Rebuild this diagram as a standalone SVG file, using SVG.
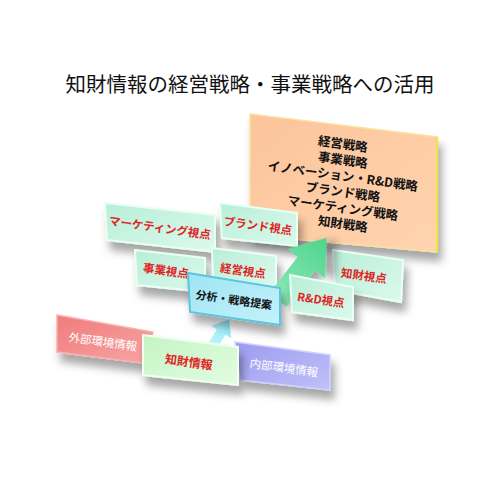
<svg xmlns="http://www.w3.org/2000/svg" width="500" height="500" viewBox="0 0 500 500">
<defs>
<filter id="sh" x="-20%" y="-20%" width="150%" height="180%">
<feDropShadow dx="4" dy="9" stdDeviation="4" flood-color="#000" flood-opacity="0.35"/>
</filter>
<linearGradient id="gOr" x1="0" y1="0" x2="1" y2="1"><stop offset="0" stop-color="#fcc49a"/><stop offset="1" stop-color="#ffd4b0"/></linearGradient>
<linearGradient id="gGr" x1="0" y1="0" x2="1" y2="1"><stop offset="0" stop-color="#b8eed8"/><stop offset="1" stop-color="#dcfaec"/></linearGradient>
<linearGradient id="gBl" x1="0" y1="0" x2="1" y2="1"><stop offset="0" stop-color="#9ee4f4"/><stop offset="1" stop-color="#c4f2fb"/></linearGradient>
<linearGradient id="gPk" x1="0" y1="0" x2="1" y2="1"><stop offset="0" stop-color="#f07c7c"/><stop offset="1" stop-color="#f8a4a4"/></linearGradient>
<linearGradient id="gLv" x1="0" y1="0" x2="1" y2="1"><stop offset="0" stop-color="#9c9cf0"/><stop offset="1" stop-color="#c0c0fa"/></linearGradient>
<linearGradient id="gLg" x1="0" y1="0" x2="1" y2="1"><stop offset="0" stop-color="#c4f4c4"/><stop offset="1" stop-color="#e2fce2"/></linearGradient>
<linearGradient id="gAr" x1="0" y1="0" x2="1" y2="0"><stop offset="0" stop-color="#8ee8b8"/><stop offset="1" stop-color="#4cd48c"/></linearGradient>
<linearGradient id="gAb" x1="0" y1="0" x2="1" y2="0"><stop offset="0" stop-color="#c8f6fc"/><stop offset="1" stop-color="#8ee6f6"/></linearGradient>
</defs>
<style>
text{font-family:"Noto Sans CJK JP","Noto Sans",sans-serif;text-anchor:middle;dominant-baseline:central}
.box{filter:url(#sh)}
.gr{fill:url(#gGr);stroke:#e8fff4;stroke-width:2}
.rt{fill:#e02424;font-weight:bold;font-size:11.5px}
.ot{fill:#111;font-weight:bold;font-size:12.5px}
.wt{fill:#fff;font-size:11.5px}
</style>
<rect width="500" height="500" fill="#fff"/>
<text x="250" y="83" style="font-size:20.5px;fill:#111">知財情報の経営戦略・事業戦略への活用</text>

<g id="strategy">
<polygon class="box" points="250,114 437,137 437,252 250,235" fill="url(#gOr)" stroke="#fbe0a0" stroke-width="1.5"/>
<polyline points="437,137 437,252" fill="none" stroke="#f4e050" stroke-width="2.5"/>
<text class="ot" x="343" y="143" transform="rotate(8 343 143)">経営戦略</text>
<text class="ot" x="343" y="159" transform="rotate(8 343 159)">事業戦略</text>
<text class="ot" x="343" y="175" transform="rotate(8 343 175)">イノベーション・R&amp;D戦略</text>
<text class="ot" x="343" y="191" transform="rotate(8 343 191)">ブランド戦略</text>
<text class="ot" x="343" y="207" transform="rotate(8 343 207)">マーケティング戦略</text>
<text class="ot" x="343" y="223" transform="rotate(8 343 223)">知財戦略</text>
</g>

<g id="marketing">
<polygon class="box gr" points="105,203 215,215 215,252 107,240"/>
<text class="rt" x="160" y="227" transform="rotate(8 160 227)">マーケティング視点</text>
</g>
<g id="brand">
<polygon class="box gr" points="220,203 297,213 297,246 222,238"/>
<text class="rt" x="258" y="225" transform="rotate(8 258 225)">ブランド視点</text>
</g>
<g id="business">
<polygon class="box gr" points="135,250 205,258 205,292 137,285"/>
<text class="rt" x="166" y="270" transform="rotate(8 166 270)">事業視点</text>
</g>
<g id="management">
<polygon class="box gr" points="212,248 276,256 276,289 213,282"/>
<text class="rt" x="243" y="270" transform="rotate(8 243 270)">経営視点</text>
</g>
<g id="ipview">
<polygon class="box gr" points="333,250 403,260 401,302 335,290"/>
<text class="rt" x="364" y="275" transform="rotate(8 364 275)">知財視点</text>
</g>

<g id="connectors">
<polygon class="box" transform="translate(278,300) rotate(-52)" points="0,-11 46,-11 46,-24 79,0 46,24 46,11 0,11" fill="url(#gAr)"/>
<polygon transform="translate(210,350) rotate(-58)" points="0,-5 21,-5 21,-12 36,0 21,12 21,5 0,5" fill="url(#gAb)"/>
</g>

<g id="rd">
<polygon class="box gr" points="290,275 353,287 353,320 292,312"/>
<text class="rt" x="321" y="299" transform="rotate(8 321 299)">R&amp;D視点</text>
</g>
<g id="analysis">
<polygon class="box" points="188,273 280,288 280,325 190,312" fill="url(#gBl)" stroke="#5cc4de" stroke-width="2"/>
<text x="234" y="299" transform="rotate(8 234 299)" style="font-size:11px;font-weight:bold;fill:#111">分析・戦略提案</text>
</g>

<g id="external">
<polygon class="box" points="57,315 153,332 143,363 57,352" fill="url(#gPk)" stroke="#f8b0b0" stroke-width="1.5"/>
<text class="wt" x="103" y="341" transform="rotate(8 103 341)">外部環境情報</text>
</g>
<g id="internal">
<polygon class="box" points="235,342 330,355 330,390 240,380" fill="url(#gLv)" stroke="#d0d0ff" stroke-width="1.5"/>
<text class="wt" x="284" y="367" transform="rotate(8 284 367)">内部環境情報</text>
</g>
<g id="ipinfo">
<polygon class="box" points="143,335 238,347 238,385 143,375" fill="url(#gLg)" stroke="#f0fff0" stroke-width="2"/>
<text x="189" y="361" transform="rotate(8 189 361)" style="font-size:12px;font-weight:bold;fill:#e02424">知財情報</text>
</g>
</svg>
